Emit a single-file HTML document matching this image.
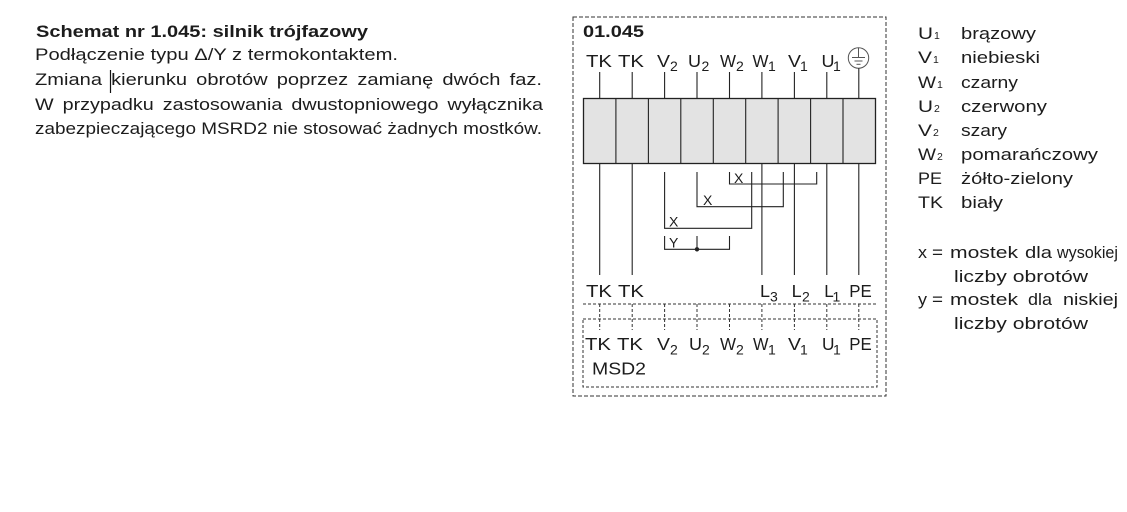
<!DOCTYPE html>
<html>
<head>
<meta charset="utf-8">
<style>
html,body{margin:0;padding:0;background:#fff;}
svg{display:block;}
text{font-family:"Liberation Sans",Arial,sans-serif;fill:#1c1c1c;}
</style>
</head>
<body>
<svg width="1127" height="512" viewBox="0 0 1127 512" xmlns="http://www.w3.org/2000/svg">
<rect x="0" y="0" width="1127" height="512" fill="#fff"/>

<!-- Left description text -->
<g font-size="17">
<text x="36" y="37" font-weight="bold" textLength="332" lengthAdjust="spacingAndGlyphs">Schemat nr 1.045: silnik trójfazowy</text>
<text x="35" y="60" textLength="363" lengthAdjust="spacingAndGlyphs">Podłączenie typu Δ/Y z termokontaktem.</text>
<text x="35" y="85" textLength="507" lengthAdjust="spacingAndGlyphs" word-spacing="3">Zmiana kierunku obrotów poprzez zamianę dwóch faz.</text>
<text x="35" y="110" textLength="508" lengthAdjust="spacingAndGlyphs" word-spacing="3">W przypadku zastosowania dwustopniowego wyłącznika</text>
<text x="35" y="134" textLength="507" lengthAdjust="spacingAndGlyphs">zabezpieczającego MSRD2 nie stosować żadnych mostków.</text>
</g>
<!-- text cursor -->
<line x1="110.5" y1="70" x2="110.5" y2="93" stroke="#111" stroke-width="1.2"/>

<!-- Diagram outer dashed frame -->
<rect x="573" y="17" width="313" height="379" fill="none" stroke="#333" stroke-width="1" stroke-dasharray="4 2"/>

<text x="583" y="37" font-size="17" font-weight="bold" textLength="61" lengthAdjust="spacingAndGlyphs">01.045</text>

<!-- Top labels -->
<g font-size="17.5">
<text x="586" y="67" textLength="26" lengthAdjust="spacingAndGlyphs">TK</text>
<text x="618" y="67" textLength="26" lengthAdjust="spacingAndGlyphs">TK</text>
<text x="657" y="67" textLength="13" lengthAdjust="spacingAndGlyphs">V</text>
<text x="670" y="71" font-size="14">2</text>
<text x="688" y="67" textLength="13" lengthAdjust="spacingAndGlyphs">U</text>
<text x="701.5" y="71" font-size="14">2</text>
<text x="720" y="67" textLength="16" lengthAdjust="spacingAndGlyphs">W</text>
<text x="736" y="71" font-size="14">2</text>
<text x="752.5" y="67" textLength="16" lengthAdjust="spacingAndGlyphs">W</text>
<text x="768" y="71" font-size="14">1</text>
<text x="788" y="67" textLength="13" lengthAdjust="spacingAndGlyphs">V</text>
<text x="800" y="71" font-size="14">1</text>
<text x="821.5" y="67" textLength="13" lengthAdjust="spacingAndGlyphs">U</text>
<text x="833" y="71" font-size="14">1</text>
</g>
<!-- ground symbol -->
<g stroke="#555" stroke-width="1" fill="none">
<circle cx="858.5" cy="58" r="10.2"/>
<line x1="858.5" y1="48" x2="858.5" y2="57.5"/>
<line x1="852" y1="57.5" x2="865" y2="57.5"/>
<line x1="854.5" y1="61" x2="862.5" y2="61"/>
<line x1="856.5" y1="64.3" x2="860.5" y2="64.3"/>
</g>

<!-- lines from labels to block -->
<g stroke="#222" stroke-width="1.1">
<line x1="599.7" y1="72" x2="599.7" y2="98"/>
<line x1="632.2" y1="72" x2="632.2" y2="98"/>
<line x1="664.6" y1="72" x2="664.6" y2="98"/>
<line x1="697" y1="72" x2="697" y2="98"/>
<line x1="729.5" y1="72" x2="729.5" y2="98"/>
<line x1="761.9" y1="72" x2="761.9" y2="98"/>
<line x1="794.4" y1="72" x2="794.4" y2="98"/>
<line x1="826.8" y1="72" x2="826.8" y2="98"/>
<line x1="858.8" y1="68.2" x2="858.8" y2="98"/>
</g>

<!-- terminal block -->
<rect x="583.5" y="98.5" width="292" height="65" fill="#e3e3e3" stroke="#222" stroke-width="1.3"/>
<g stroke="#222" stroke-width="1.1">
<line x1="615.9" y1="98.5" x2="615.9" y2="163.5"/>
<line x1="648.4" y1="98.5" x2="648.4" y2="163.5"/>
<line x1="680.8" y1="98.5" x2="680.8" y2="163.5"/>
<line x1="713.3" y1="98.5" x2="713.3" y2="163.5"/>
<line x1="745.7" y1="98.5" x2="745.7" y2="163.5"/>
<line x1="778.1" y1="98.5" x2="778.1" y2="163.5"/>
<line x1="810.6" y1="98.5" x2="810.6" y2="163.5"/>
<line x1="843" y1="98.5" x2="843" y2="163.5"/>
</g>

<!-- lines below block -->
<g stroke="#222" stroke-width="1.1" fill="none">
<line x1="599.7" y1="163.5" x2="599.7" y2="275"/>
<line x1="632.2" y1="163.5" x2="632.2" y2="275"/>
<line x1="761.9" y1="163.5" x2="761.9" y2="275"/>
<line x1="794.4" y1="163.5" x2="794.4" y2="275"/>
<line x1="826.8" y1="163.5" x2="826.8" y2="275"/>
<line x1="858.8" y1="163.5" x2="858.8" y2="275"/>
<path d="M664.6,172 V228.3 H751.7 V172"/>
<path d="M697,172 V206.7 H783.3 V172"/>
<path d="M729.5,172 V184 H816.7 V172"/>
<path d="M664.6,236 V249.3 H729.5 V236"/>
<path d="M697,236 V249.3"/>
</g>
<circle cx="697" cy="249.3" r="2.2" fill="#222"/>
<g font-size="14">
<text x="734" y="183">X</text>
<text x="703" y="205">X</text>
<text x="669" y="226.5">X</text>
<text x="669" y="247.5">Y</text>
</g>

<!-- bottom label row 1 -->
<g font-size="17.5">
<text x="586" y="297" textLength="26" lengthAdjust="spacingAndGlyphs">TK</text>
<text x="618" y="297" textLength="26" lengthAdjust="spacingAndGlyphs">TK</text>
<text x="760" y="297" textLength="10" lengthAdjust="spacingAndGlyphs">L</text>
<text x="770" y="301.5" font-size="14">3</text>
<text x="791.7" y="297" textLength="10" lengthAdjust="spacingAndGlyphs">L</text>
<text x="802" y="301.5" font-size="14">2</text>
<text x="824.3" y="297" textLength="9.5" lengthAdjust="spacingAndGlyphs">L</text>
<text x="832.5" y="301.5" font-size="14">1</text>
<text x="849.3" y="297" textLength="22.5" lengthAdjust="spacingAndGlyphs">PE</text>
</g>

<!-- dashed connections -->
<g stroke="#333" stroke-width="1" stroke-dasharray="3 2" fill="none">
<line x1="583" y1="304" x2="877" y2="304"/>
<line x1="599.7" y1="304" x2="599.7" y2="330"/>
<line x1="632.2" y1="304" x2="632.2" y2="330"/>
<line x1="664.6" y1="304" x2="664.6" y2="330"/>
<line x1="697" y1="304" x2="697" y2="330"/>
<line x1="729.5" y1="304" x2="729.5" y2="330"/>
<line x1="761.9" y1="304" x2="761.9" y2="330"/>
<line x1="794.4" y1="304" x2="794.4" y2="330"/>
<line x1="826.8" y1="304" x2="826.8" y2="330"/>
<line x1="858.8" y1="304" x2="858.8" y2="330"/>
<rect x="583" y="319" width="294" height="68"/>
</g>

<!-- bottom label row 2 -->
<g font-size="17.5">
<text x="585" y="350" textLength="26" lengthAdjust="spacingAndGlyphs">TK</text>
<text x="617" y="350" textLength="26" lengthAdjust="spacingAndGlyphs">TK</text>
<text x="657" y="350" textLength="13" lengthAdjust="spacingAndGlyphs">V</text>
<text x="670" y="354.5" font-size="14">2</text>
<text x="689" y="350" textLength="13" lengthAdjust="spacingAndGlyphs">U</text>
<text x="702" y="354.5" font-size="14">2</text>
<text x="720" y="350" textLength="16" lengthAdjust="spacingAndGlyphs">W</text>
<text x="736" y="354.5" font-size="14">2</text>
<text x="753" y="350" textLength="15.5" lengthAdjust="spacingAndGlyphs">W</text>
<text x="768" y="354.5" font-size="14">1</text>
<text x="788" y="350" textLength="13" lengthAdjust="spacingAndGlyphs">V</text>
<text x="800" y="354.5" font-size="14">1</text>
<text x="822" y="350" textLength="12.5" lengthAdjust="spacingAndGlyphs">U</text>
<text x="833" y="354.5" font-size="14">1</text>
<text x="849.3" y="350" textLength="22.5" lengthAdjust="spacingAndGlyphs">PE</text>
<text x="592" y="374.5" textLength="54" lengthAdjust="spacingAndGlyphs">MSD2</text>
</g>

<!-- legend -->
<g font-size="16.5">
<text x="918" y="39"><tspan textLength="15" lengthAdjust="spacingAndGlyphs">U</tspan><tspan font-size="10.5" dx="1">1</tspan></text>
<text x="918" y="63"><tspan textLength="14" lengthAdjust="spacingAndGlyphs">V</tspan><tspan font-size="10.5" dx="1">1</tspan></text>
<text x="918" y="88"><tspan textLength="18" lengthAdjust="spacingAndGlyphs">W</tspan><tspan font-size="10.5" dx="1">1</tspan></text>
<text x="918" y="112"><tspan textLength="15" lengthAdjust="spacingAndGlyphs">U</tspan><tspan font-size="10.5" dx="1">2</tspan></text>
<text x="918" y="136"><tspan textLength="14" lengthAdjust="spacingAndGlyphs">V</tspan><tspan font-size="10.5" dx="1">2</tspan></text>
<text x="918" y="160"><tspan textLength="18" lengthAdjust="spacingAndGlyphs">W</tspan><tspan font-size="10.5" dx="1">2</tspan></text>
<text x="918" y="184" textLength="24" lengthAdjust="spacingAndGlyphs">PE</text>
<text x="918" y="208" textLength="25" lengthAdjust="spacingAndGlyphs">TK</text>

<text x="961" y="39" textLength="75" lengthAdjust="spacingAndGlyphs">brązowy</text>
<text x="961" y="63" textLength="79" lengthAdjust="spacingAndGlyphs">niebieski</text>
<text x="961" y="88" textLength="57" lengthAdjust="spacingAndGlyphs">czarny</text>
<text x="961" y="112" textLength="86" lengthAdjust="spacingAndGlyphs">czerwony</text>
<text x="961" y="136" textLength="46" lengthAdjust="spacingAndGlyphs">szary</text>
<text x="961" y="160" textLength="137" lengthAdjust="spacingAndGlyphs">pomarańczowy</text>
<text x="961" y="184" textLength="112" lengthAdjust="spacingAndGlyphs">żółto-zielony</text>
<text x="961" y="208" textLength="42" lengthAdjust="spacingAndGlyphs">biały</text>

<text x="918" y="258" textLength="9" lengthAdjust="spacingAndGlyphs">x</text>
<text x="932" y="258" textLength="11" lengthAdjust="spacingAndGlyphs">=</text>
<text x="950" y="258" textLength="68" lengthAdjust="spacingAndGlyphs">mostek</text>
<text x="1025" y="258" textLength="27" lengthAdjust="spacingAndGlyphs">dla</text>
<text x="1057" y="258" textLength="61" lengthAdjust="spacingAndGlyphs">wysokiej</text>
<text x="954" y="282" textLength="134" lengthAdjust="spacingAndGlyphs">liczby obrotów</text>

<text x="918" y="305" textLength="9" lengthAdjust="spacingAndGlyphs">y</text>
<text x="932" y="305" textLength="11" lengthAdjust="spacingAndGlyphs">=</text>
<text x="950" y="305" textLength="68" lengthAdjust="spacingAndGlyphs">mostek</text>
<text x="1028" y="305" textLength="24" lengthAdjust="spacingAndGlyphs">dla</text>
<text x="1063" y="305" textLength="55" lengthAdjust="spacingAndGlyphs">niskiej</text>
<text x="954" y="329" textLength="134" lengthAdjust="spacingAndGlyphs">liczby obrotów</text>
</g>
</svg>
</body>
</html>
